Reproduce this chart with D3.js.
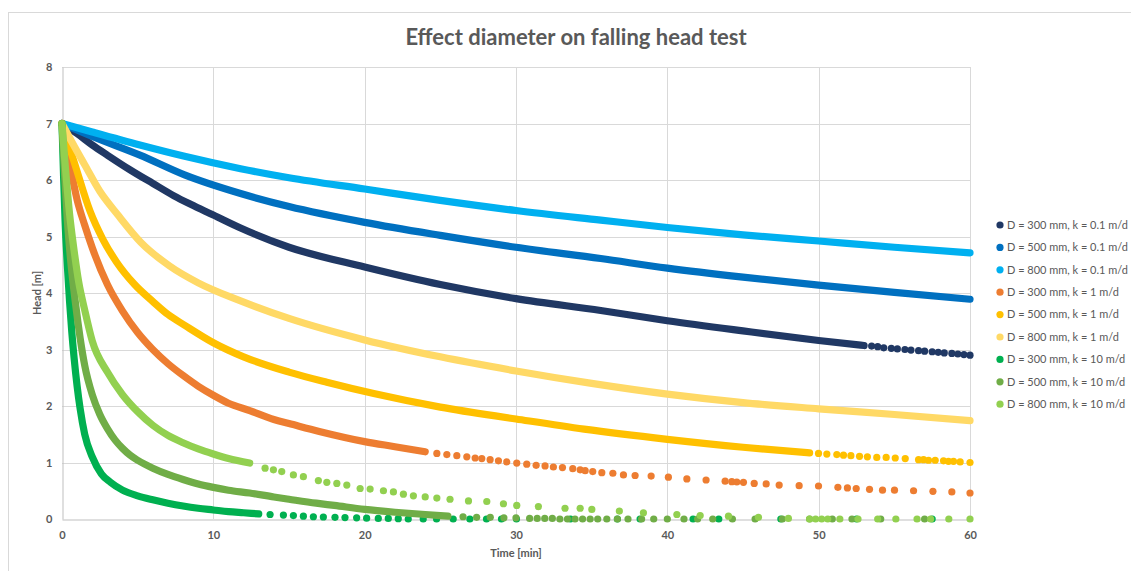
<!DOCTYPE html>
<html lang="en">
<head>
<meta charset="utf-8">
<title>Effect diameter on falling head test</title>
<script src="https://cdn.jsdelivr.net/npm/d3@7"></script>
<style>
  body { margin: 0; background: #fff; }
  text { font-family: Lato, "Open Sans", sans-serif; fill: #595959; }
</style>
</head>
<body>
<svg id="chart" width="1131" height="571"></svg>
<script>
// series labels, same order as the legend
var seriesLabels = [
  "D = 300 mm, k = 0.1 m/d", "D = 500 mm, k = 0.1 m/d", "D = 800 mm, k = 0.1 m/d",
  "D = 300 mm, k = 1 m/d", "D = 500 mm, k = 1 m/d", "D = 800 mm, k = 1 m/d",
  "D = 300 mm, k = 10 m/d", "D = 500 mm, k = 10 m/d", "D = 800 mm, k = 10 m/d"
];
var seriesColors = ["#203864", "#0070c0", "#00b0f0", "#ed7d31", "#ffc000", "#ffd966", "#00b050", "#70ad47", "#92d050"];

var xTicks = [0, 10, 20, 30, 40, 50, 60];
var yTicks = [0, 1, 2, 3, 4, 5, 6, 7, 8];

// time [min] / head [m]; "Time"/"Head" = where markers merge into a band,
// "DotTime"/"DotHead" = markers that stand apart
var s1Time = [0, 1, 2, 3, 4.5, 6, 7.4, 8.5, 10, 11.8, 15, 20, 25, 30, 35.6, 40, 45, 50, 53];
var s1Head = [7, 6.82, 6.62, 6.44, 6.18, 5.94, 5.72, 5.57, 5.38, 5.15, 4.81, 4.46, 4.15, 3.9, 3.69, 3.51, 3.33, 3.16, 3.07];
var s1DotTime = [53.5, 53.9, 54.3, 54.8, 55.2, 55.7, 56.1, 56.6, 57, 57.5, 57.9, 58.3, 58.8, 59.2, 59.6, 60];
var s1DotHead = [3.06, 3.05, 3.03, 3.02, 3.01, 3.0, 2.99, 2.98, 2.97, 2.96, 2.95, 2.94, 2.93, 2.92, 2.91, 2.9];

var s2Time = [0, 2, 5.15, 8.1, 11.8, 15, 20, 25, 30, 35.6, 40, 45, 50, 55, 60];
var s2Head = [7, 6.77, 6.44, 6.09, 5.76, 5.53, 5.25, 5.02, 4.81, 4.61, 4.44, 4.28, 4.14, 4.01, 3.89];
var s2DotTime = [];
var s2DotHead = [];

var s3Time = [0, 2, 5.15, 8.1, 11.8, 15, 20, 25, 30, 35.6, 40, 45, 50, 55, 60];
var s3Head = [7, 6.85, 6.62, 6.42, 6.2, 6.04, 5.84, 5.64, 5.46, 5.29, 5.16, 5.03, 4.92, 4.81, 4.71];
var s3DotTime = [];
var s3DotHead = [];

var s4Time = [0, 0.4, 1, 1.5, 2, 3, 4, 5, 6, 7, 8, 9, 10, 11, 12.4, 14, 15, 17, 20, 22, 24];
var s4Head = [7, 6.45, 5.65, 5.2, 4.8, 4.15, 3.68, 3.3, 3.0, 2.75, 2.54, 2.35, 2.19, 2.05, 1.92, 1.76, 1.69, 1.55, 1.37, 1.28, 1.19];
var s4DotTime = [24.77, 25.43, 26.09, 26.75, 27.3, 27.74, 28.29, 28.84, 29.39, 30.05, 30.71, 31.33, 31.92, 32.47, 33.07, 33.75,
  34.24, 34.57, 35.07, 35.67, 36.4, 37.1, 37.87, 38.93, 40.07, 41.29, 42.56, 43.82, 44.26, 44.59, 45.03, 45.74, 46.53, 47.39,
  48.71, 49.99, 51.27, 51.9, 52.48, 53.36, 54.22, 55.01, 56.27, 57.55, 58.8, 60];
var s4DotHead = [1.16, 1.14, 1.12, 1.1, 1.08, 1.07, 1.05, 1.03, 1.01, 0.99, 0.97, 0.95, 0.94, 0.92, 0.91, 0.89,
  0.87, 0.855, 0.84, 0.82, 0.81, 0.78, 0.77, 0.76, 0.74, 0.71, 0.69, 0.67, 0.66, 0.655, 0.65, 0.63, 0.62, 0.6,
  0.59, 0.584, 0.56, 0.55, 0.54, 0.525, 0.51, 0.51, 0.5, 0.49, 0.48, 0.46];

var s5Time = [0, 0.86, 1.85, 2.7, 3.6, 4.8, 6, 7, 8.1, 10, 12, 15, 17.5, 20.6, 25, 30, 34.5, 40, 45, 49.4];
var s5Head = [7, 6.27, 5.45, 4.95, 4.55, 4.15, 3.85, 3.62, 3.43, 3.12, 2.87, 2.6, 2.42, 2.22, 1.98, 1.77, 1.59, 1.41, 1.27, 1.17];
var s5DotTime = [49.99, 50.54, 51.2, 51.64, 52.13, 52.7, 53.22, 53.84, 54.46, 55.06, 55.72, 56.6, 56.93, 57.26, 57.7, 58.25, 58.58, 58.91, 59.35, 60];
var s5DotHead = [1.16, 1.15, 1.14, 1.13, 1.12, 1.11, 1.1, 1.09, 1.09, 1.08, 1.07, 1.05, 1.05, 1.04, 1.04, 1.03, 1.02, 1.02, 1.01, 1.0];

var s6Time = [0, 0.7, 1.5, 2.5, 3.7, 5.2, 7.1, 9, 11.8, 15, 20, 25, 30, 35, 40, 45, 50, 55, 60];
var s6Head = [7, 6.65, 6.27, 5.8, 5.38, 4.9, 4.48, 4.18, 3.86, 3.55, 3.17, 2.87, 2.62, 2.4, 2.21, 2.06, 1.95, 1.85, 1.74];
var s6DotTime = [];
var s6DotHead = [];

var s7Time = [0, 0.1, 0.2, 0.35, 0.5, 0.65, 0.8, 1, 1.2, 1.5, 2, 2.6, 3.2, 4, 5, 6, 7, 8, 9, 10, 11, 12, 13];
var s7Head = [7, 6.1, 5.3, 4.5, 3.85, 3.3, 2.85, 2.35, 1.95, 1.5, 1.1, 0.8, 0.65, 0.51, 0.41, 0.34, 0.28, 0.23, 0.19, 0.16, 0.13, 0.11, 0.09];
var s7DotTime = [13.75, 14.63, 15.29, 15.95, 16.61, 17.27, 18.04, 18.7, 19.47, 20.13, 20.9, 21.56, 22.22, 22.88, 23.87, 24.75,
  25.85, 26.95, 28.05, 29.04, 30.03, 33.6, 36.7, 38.2, 41.7, 43.4, 47.5, 52.5, 57.5];
var s7DotHead = [0.08, 0.07, 0.06, 0.05, 0.04, 0.035, 0.03, 0.025, 0.02, 0.015, 0.01, 0.01, 0.005, 0, 0, 0,
  0, 0, 0, 0, 0, 0, 0, 0, 0, 0, 0, 0, 0];

var s8Time = [0, 0.15, 0.35, 0.6, 0.9, 1.2, 1.5, 2, 2.5, 3, 3.5, 4, 4.5, 5, 6, 7, 8, 9, 10, 11, 12.4, 14, 15, 16.8, 18, 20, 22, 24, 25.5];
var s8Head = [7, 6.2, 5.3, 4.5, 3.8, 3.2, 2.72, 2.2, 1.85, 1.6, 1.4, 1.25, 1.13, 1.04, 0.9, 0.79, 0.7, 0.62, 0.56, 0.51, 0.46, 0.39, 0.35, 0.28, 0.24, 0.17, 0.12, 0.08, 0.05];
var s8DotTime = [26.5, 27.4, 28.3, 29.2, 30, 30.9, 31.4, 31.9, 32.4, 32.9, 33.4, 33.9, 34.4, 34.9, 35.4, 36, 36.7, 37.4,
  38.3, 39.1, 40, 41.1, 42, 43, 44.3, 45.8, 47.6, 49.4, 50.9, 52.2, 54.1, 57];
var s8DotHead = [0.04, 0.03, 0.03, 0.02, 0.02, 0.01, 0.01, 0.01, 0.01, 0, 0, 0, 0, 0, 0, 0, 0, 0,
  0, 0, 0, 0, 0, 0, 0, 0, 0, 0, 0, 0, 0, 0];

var s9Time = [0, 0.2, 0.5, 0.8, 1.1, 1.5, 2, 3, 4, 5, 6, 7, 8, 9, 10, 11, 12.4];
var s9Head = [7, 6.3, 5.4, 4.75, 4.2, 3.7, 3.15, 2.6, 2.2, 1.9, 1.66, 1.48, 1.35, 1.24, 1.15, 1.07, 0.99];
var s9DotTime = [13.42, 13.97, 14.52, 15.29, 15.95, 16.94, 17.5, 18.16, 18.82, 19.7, 20.36, 21.24, 21.9, 22.56, 23.22, 24,
  24.77, 25.64, 26.86, 28.07, 29.17, 30.05, 31.48, 33.24, 34.24, 35.01, 36.83, 38.42, 40.63, 42.17, 44.04, 46.02, 48,
  49.4, 49.8, 50.2, 50.6, 51.4, 52.6, 53.9, 55.1, 56.5, 57.4, 58.6, 60];
var s9DotHead = [0.9, 0.87, 0.84, 0.78, 0.75, 0.68, 0.65, 0.63, 0.6, 0.54, 0.53, 0.5, 0.48, 0.44, 0.41, 0.39,
  0.37, 0.35, 0.32, 0.31, 0.27, 0.24, 0.22, 0.19, 0.19, 0.17, 0.14, 0.11, 0.08, 0.06, 0.05, 0.03, 0.01,
  0, 0, 0, 0, 0, 0, 0, 0, 0, 0, 0, 0];

var curveTimes = [s1Time, s2Time, s3Time, s4Time, s5Time, s6Time, s7Time, s8Time, s9Time];
var curveHeads = [s1Head, s2Head, s3Head, s4Head, s5Head, s6Head, s7Head, s8Head, s9Head];
var dotTimes = [s1DotTime, s2DotTime, s3DotTime, s4DotTime, s5DotTime, s6DotTime, s7DotTime, s8DotTime, s9DotTime];
var dotHeads = [s1DotHead, s2DotHead, s3DotHead, s4DotHead, s5DotHead, s6DotHead, s7DotHead, s8DotHead, s9DotHead];

var series = seriesLabels.map(function(label, i) {
  return {
    label: label,
    color: seriesColors[i],
    curve: curveTimes[i].map(function(t, j) { return [t, curveHeads[i][j]]; }),
    dots: dotTimes[i].map(function(t, j) { return [t, dotHeads[i][j]]; })
  };
});

var svg = d3.select("#chart");
var markerR = 3.6;

// outer chart frame
svg.append("rect")
  .attr("x", 8.5).attr("y", 12.5)
  .attr("width", 1140).attr("height", 580)
  .style("fill", "none").style("stroke", "#d9d9d9");

var x = d3.scaleLinear().domain([0, 60]).range([62, 970]);
var y = d3.scaleLinear().domain([0, 8]).range([519, 67]);

// gridlines
var grid = svg.append("g");
grid.selectAll("line.h").data(yTicks.slice(1)).enter().append("line")
  .attr("x1", x(0)).attr("x2", x(60))
  .attr("y1", function(d) { return Math.round(y(d)) + 0.5; })
  .attr("y2", function(d) { return Math.round(y(d)) + 0.5; })
  .style("stroke", "#d9d9d9");
grid.selectAll("line.v").data(xTicks.slice(1)).enter().append("line")
  .attr("y1", y(0)).attr("y2", y(8))
  .attr("x1", function(d) { return Math.round(x(d)) + 0.5; })
  .attr("x2", function(d) { return Math.round(x(d)) + 0.5; })
  .style("stroke", "#d9d9d9");

// axes
var xAxis = svg.append("g")
  .attr("transform", "translate(0," + (Math.round(y(0)) + 0.5) + ")")
  .call(d3.axisBottom(x).tickValues(xTicks).tickSize(0).tickPadding(12).tickFormat(d3.format("d")));
var yAxis = svg.append("g")
  .attr("transform", "translate(" + (Math.round(x(0)) + 0.5) + ",0)")
  .call(d3.axisLeft(y).tickValues(yTicks).tickSize(0).tickPadding(10).tickFormat(d3.format("d")));
[xAxis, yAxis].forEach(function(a) {
  a.select(".domain").style("stroke", "#bfbfbf");
  a.selectAll("text").style("font-size", "11px").style("font-weight", "bold")
    .style("fill", "#595959").style("font-family", "Lato, sans-serif");
});

// series: bands of merged markers drawn as thick round lines, loose markers as circles
var line = d3.line()
  .x(function(d) { return x(d[0]); })
  .y(function(d) { return y(d[1]); })
  .curve(d3.curveMonotoneX);

var marks = svg.append("g");
series.forEach(function(s) {
  var g = marks.append("g");
  g.append("path")
    .attr("d", line(s.curve))
    .style("fill", "none")
    .style("stroke", s.color)
    .style("stroke-width", markerR * 2)
    .style("stroke-linecap", "round")
    .style("stroke-linejoin", "round");
  g.selectAll("circle").data(s.dots).enter().append("circle")
    .attr("cx", function(d) { return x(d[0]); })
    .attr("cy", function(d) { return y(d[1]); })
    .attr("r", markerR)
    .style("fill", s.color);
});

// title
svg.append("text")
  .attr("x", 576).attr("y", 45)
  .attr("text-anchor", "middle")
  .style("font-size", "22px").style("font-weight", "bold")
  .text("Effect diameter on falling head test");

// axis titles
svg.append("text")
  .attr("x", 516).attr("y", 557)
  .attr("text-anchor", "middle")
  .style("font-size", "11px").style("font-weight", "bold")
  .text("Time [min]");
svg.append("text")
  .attr("transform", "translate(41,293) rotate(-90)")
  .attr("text-anchor", "middle")
  .style("font-size", "11px").style("font-weight", "bold")
  .text("Head [m]");

// legend
var legend = svg.append("g").selectAll("g").data(series).enter().append("g")
  .attr("transform", function(d, i) { return "translate(1000," + (225 + i * 22.4) + ")"; });
legend.append("circle").attr("r", markerR).style("fill", function(d) { return d.color; });
var legendText = legend.append("text")
  .attr("x", 7).attr("dy", "0.35em")
  .style("font-size", "12px")
  .text(function(d) { return d.label; });

// shrink the legend font so the longest label ends where the reference's does
var widest = d3.max(legendText.nodes(), function(n) { return n.getComputedTextLength(); });
if (widest > 121) legendText.style("font-size", (12 * 121 / widest).toFixed(2) + "px");
</script>
</body>
</html>
